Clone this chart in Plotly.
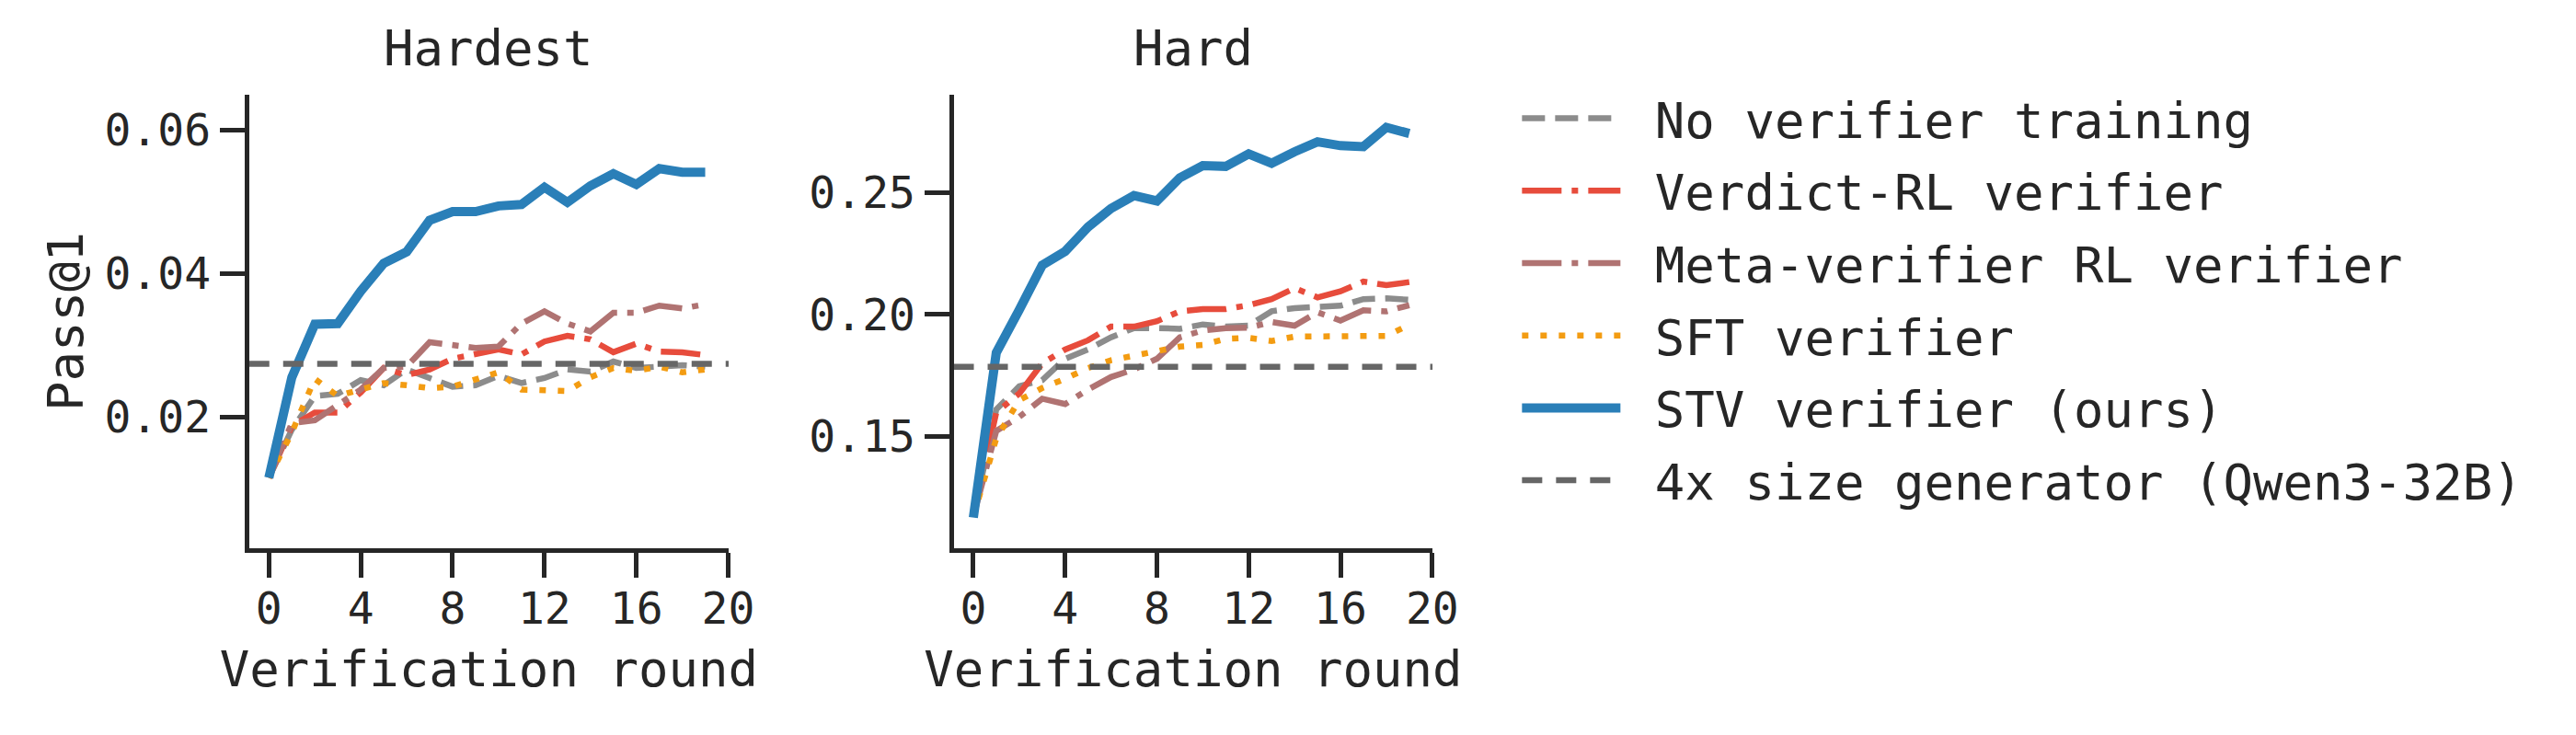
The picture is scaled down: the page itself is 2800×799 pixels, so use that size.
import plotly.graph_objects as go

rounds = list(range(20))

# Hardest panel
hardest_none = [0.0115, 0.0182, 0.0229, 0.0232, 0.0251, 0.0244, 0.0266, 0.0255, 0.0242, 0.0244,
                0.0257, 0.0247, 0.0254, 0.0266, 0.0263, 0.0277, 0.0268, 0.0270, 0.0272, 0.0270]
hardest_verdict = [0.0115, 0.0187, 0.0206, 0.0206, 0.0234, 0.0268, 0.0258, 0.0266, 0.0281, 0.0287,
                   0.0294, 0.0287, 0.0305, 0.0313, 0.0308, 0.0290, 0.0302, 0.0291, 0.0290, 0.0286]
hardest_meta = [0.0115, 0.0191, 0.0195, 0.0217, 0.0238, 0.0268, 0.0270, 0.0304, 0.0301, 0.0296,
                0.0298, 0.0330, 0.0347, 0.0330, 0.0319, 0.0345, 0.0345, 0.0355, 0.0351, 0.0357]
hardest_sft = [0.0115, 0.0178, 0.0253, 0.0229, 0.0238, 0.0247, 0.0244, 0.0240, 0.0242, 0.0253,
               0.0262, 0.0238, 0.0236, 0.0236, 0.0255, 0.0268, 0.0264, 0.0270, 0.0262, 0.0266]
hardest_stv = [0.0115, 0.0255, 0.0329, 0.0330, 0.0375, 0.0414, 0.0430, 0.0474, 0.0486, 0.0486,
               0.0494, 0.0496, 0.0520, 0.0499, 0.0522, 0.0539, 0.0524, 0.0546, 0.0541, 0.0541]
hardest_big = 0.0274

# Hard panel
hard_none = [0.1170, 0.1610, 0.1705, 0.1730, 0.1818, 0.1856, 0.1906, 0.1944, 0.1944, 0.1941,
             0.1959, 0.1950, 0.1954, 0.2013, 0.2026, 0.2029, 0.2036, 0.2063, 0.2066, 0.2060]
hard_verdict = [0.1170, 0.1598, 0.1675, 0.1799, 0.1856, 0.1894, 0.1950, 0.1950, 0.1972, 0.2013,
                0.2022, 0.2022, 0.2038, 0.2063, 0.2108, 0.2070, 0.2095, 0.2135, 0.2120, 0.2133]
hard_meta = [0.1170, 0.1522, 0.1579, 0.1654, 0.1632, 0.1692, 0.1743, 0.1774, 0.1818, 0.1906,
             0.1934, 0.1944, 0.1946, 0.1969, 0.1954, 0.2009, 0.1975, 0.2017, 0.2013, 0.2038]
hard_sft = [0.1170, 0.1491, 0.1648, 0.1698, 0.1736, 0.1780, 0.1812, 0.1830, 0.1849, 0.1868,
            0.1875, 0.1900, 0.1904, 0.1891, 0.1909, 0.1909, 0.1909, 0.1912, 0.1912, 0.1957]
hard_stv = [0.1166, 0.1843, 0.2019, 0.2202, 0.2259, 0.2359, 0.2435, 0.2488, 0.2466, 0.2561,
            0.2611, 0.2608, 0.2659, 0.2621, 0.2668, 0.2709, 0.2693, 0.2689, 0.2768, 0.2743]
hard_big = 0.1785

panel_titles = ["Hardest", "Hard"]
series_names = ["No verifier training", "Verdict-RL verifier", "Meta-verifier RL verifier",
                "SFT verifier", "STV verifier (ours)"]
big_name = "4x size generator (Qwen3-32B)"
x_ticks = [0, 4, 8, 12, 16, 20]
hardest_yticks = [0.02, 0.04, 0.06]
hard_yticks = [0.15, 0.20, 0.25]

colors = ["#8c8c8c", "#e74c3c", "#b07372", "#f39c12", "#2a7fb8"]
big_color = "#666666"
widths = [6.5, 6.5, 6.5, 6.5, 10]
dashes = ["25px,11px", "43px,11px,7px,11px", "43px,11px,7px,11px", "7px,13px", "solid"]

FONT = "DejaVu Sans Mono"
TXT = "#262626"
W, H = 2800, 799
NBSP = "\u00a0"

x_range = [-0.86, 20.02]
y_ranges = [[0.00167, 0.0649], [0.104, 0.2902]]

panels = [
    ([hardest_none, hardest_verdict, hardest_meta, hardest_sft, hardest_stv], hardest_big),
    ([hard_none, hard_verdict, hard_meta, hard_sft, hard_stv], hard_big),
]

fig = go.Figure()
for p, (series, big) in enumerate(panels):
    xa = "x" if p == 0 else "x2"
    ya = "y" if p == 0 else "y2"
    for k, vals in enumerate(series):
        fig.add_trace(go.Scatter(
            x=rounds, y=vals, mode="lines", name=NBSP + series_names[k],
            line=dict(color=colors[k], width=widths[k], dash=dashes[k]),
            xaxis=xa, yaxis=ya, showlegend=(p == 0), legendgroup=series_names[k],
        ))
    fig.add_trace(go.Scatter(
        x=x_range, y=[big, big], mode="lines", name=NBSP + big_name,
        line=dict(color=big_color, width=6.5, dash="22px,15px"),
        xaxis=xa, yaxis=ya, showlegend=(p == 0), legendgroup=big_name,
    ))

y_dom = [(799 - 596) / H, (799 - 103) / H]
x_doms = [[273.5 / W, 800 / W], [1047 / W, 1573 / W]]

axis_common = dict(
    showline=True, linewidth=5, linecolor=TXT, mirror=False,
    ticks="outside", ticklen=27, tickwidth=5, tickcolor=TXT,
    showgrid=False, zeroline=False,
    tickfont=dict(family=FONT, size=48, color=TXT),
)

fig.update_layout(
    width=W, height=H, margin=dict(l=0, r=0, t=0, b=0),
    paper_bgcolor="white", plot_bgcolor="white",
    font=dict(family=FONT, color=TXT, size=54),
    xaxis=dict(domain=x_doms[0], range=x_range, tickvals=x_ticks, anchor="y", ticklabelstandoff=-8,
               title=dict(text="Verification round", font=dict(size=54), standoff=22), **axis_common),
    xaxis2=dict(domain=x_doms[1], range=x_range, tickvals=x_ticks, anchor="y2", ticklabelstandoff=-8,
                title=dict(text="Verification round", font=dict(size=54), standoff=22), **axis_common),
    yaxis=dict(domain=y_dom, range=y_ranges[0], tickvals=hardest_yticks, tickformat=".2f", anchor="x",
               title=dict(text="Pass@1", font=dict(size=54), standoff=7), **axis_common),
    yaxis2=dict(domain=y_dom, range=y_ranges[1], tickvals=hard_yticks, tickformat=".2f", anchor="x2",
                **axis_common),
    legend=dict(x=1666 / W, xanchor="left", y=1 - 87 / H, yanchor="top",
                font=dict(family=FONT, size=54, color=TXT), itemwidth=107,
                tracegroupgap=5.5, bgcolor="rgba(0,0,0,0)"),
    showlegend=True,
)

for p, t in enumerate(panel_titles):
    xd = x_doms[p]
    fig.add_annotation(text=t, xref="paper", yref="paper", x=(xd[0] + xd[1]) / 2,
                       y=1 - 53 / H, xanchor="center", yanchor="middle", showarrow=False,
                       font=dict(family=FONT, size=54, color=TXT))

fig.write_html("out.html")
